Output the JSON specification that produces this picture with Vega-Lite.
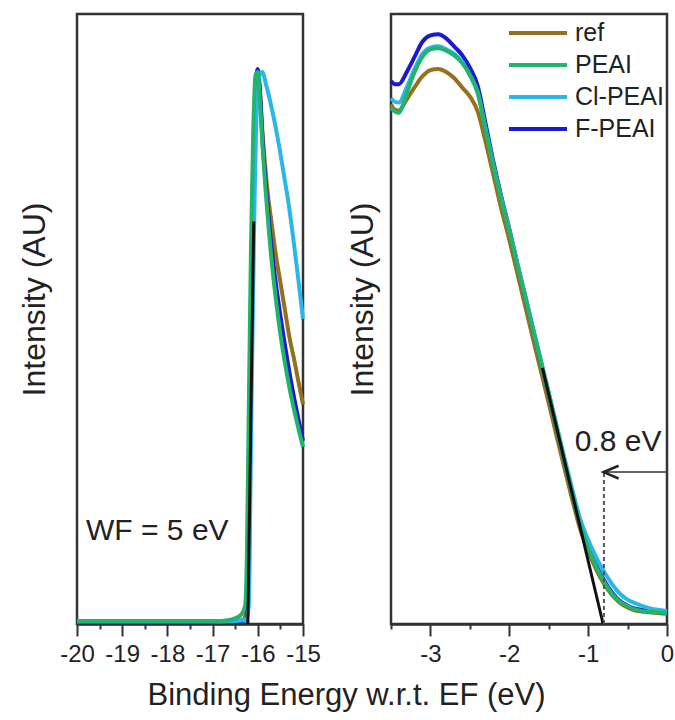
{
  "$schema": "https://vega.github.io/schema/vega-lite/v6.json",
  "padding": {"left": 16, "top": 12, "right": 4, "bottom": 6},
  "config": {
    "font": "Liberation Sans",
    "view": {"stroke": "#333", "strokeWidth": 2.5},
    "axis": {"labelFont": "Liberation Sans", "titleFont": "Liberation Sans", "titleFontWeight": "normal", "labelColor": "#222", "titleColor": "#222", "grid": false}
  },
  "datasets": {
    "left": [
      {"s": "ref", "x": -20, "y": 0.004}, {"s": "ref", "x": -19, "y": 0.004}, {"s": "ref", "x": -18, "y": 0.004}, {"s": "ref", "x": -17, "y": 0.004}, {"s": "ref", "x": -16.5, "y": 0.005}, {"s": "ref", "x": -16.3, "y": 0.008}, {"s": "ref", "x": -16.25, "y": 0.03}, {"s": "ref", "x": -16.2, "y": 0.25}, {"s": "ref", "x": -16.15, "y": 0.55}, {"s": "ref", "x": -16.1, "y": 0.77}, {"s": "ref", "x": -16.05, "y": 0.88}, {"s": "ref", "x": -16.0, "y": 0.905}, {"s": "ref", "x": -15.95, "y": 0.87}, {"s": "ref", "x": -15.9, "y": 0.81}, {"s": "ref", "x": -15.8, "y": 0.72}, {"s": "ref", "x": -15.7, "y": 0.66}, {"s": "ref", "x": -15.6, "y": 0.605}, {"s": "ref", "x": -15.5, "y": 0.56}, {"s": "ref", "x": -15.4, "y": 0.515}, {"s": "ref", "x": -15.3, "y": 0.47}, {"s": "ref", "x": -15.2, "y": 0.435}, {"s": "ref", "x": -15.1, "y": 0.397}, {"s": "ref", "x": -15.0, "y": 0.36},
      {"s": "F-PEAI", "x": -20, "y": 0.003}, {"s": "F-PEAI", "x": -19, "y": 0.003}, {"s": "F-PEAI", "x": -18, "y": 0.003}, {"s": "F-PEAI", "x": -17, "y": 0.003}, {"s": "F-PEAI", "x": -16.5, "y": 0.004}, {"s": "F-PEAI", "x": -16.25, "y": 0.006}, {"s": "F-PEAI", "x": -16.22, "y": 0.03}, {"s": "F-PEAI", "x": -16.18, "y": 0.3}, {"s": "F-PEAI", "x": -16.12, "y": 0.65}, {"s": "F-PEAI", "x": -16.06, "y": 0.86}, {"s": "F-PEAI", "x": -16.0, "y": 0.91}, {"s": "F-PEAI", "x": -15.95, "y": 0.87}, {"s": "F-PEAI", "x": -15.9, "y": 0.8}, {"s": "F-PEAI", "x": -15.8, "y": 0.7}, {"s": "F-PEAI", "x": -15.7, "y": 0.62}, {"s": "F-PEAI", "x": -15.6, "y": 0.558}, {"s": "F-PEAI", "x": -15.5, "y": 0.505}, {"s": "F-PEAI", "x": -15.4, "y": 0.457}, {"s": "F-PEAI", "x": -15.3, "y": 0.412}, {"s": "F-PEAI", "x": -15.2, "y": 0.372}, {"s": "F-PEAI", "x": -15.1, "y": 0.335}, {"s": "F-PEAI", "x": -15.0, "y": 0.3},
      {"s": "Cl-PEAI", "x": -20, "y": 0.004}, {"s": "Cl-PEAI", "x": -19, "y": 0.004}, {"s": "Cl-PEAI", "x": -18, "y": 0.004}, {"s": "Cl-PEAI", "x": -17, "y": 0.004}, {"s": "Cl-PEAI", "x": -16.5, "y": 0.005}, {"s": "Cl-PEAI", "x": -16.25, "y": 0.007}, {"s": "Cl-PEAI", "x": -16.2, "y": 0.03}, {"s": "Cl-PEAI", "x": -16.15, "y": 0.3}, {"s": "Cl-PEAI", "x": -16.08, "y": 0.66}, {"s": "Cl-PEAI", "x": -16.02, "y": 0.85}, {"s": "Cl-PEAI", "x": -15.96, "y": 0.9}, {"s": "Cl-PEAI", "x": -15.9, "y": 0.905}, {"s": "Cl-PEAI", "x": -15.82, "y": 0.885}, {"s": "Cl-PEAI", "x": -15.72, "y": 0.855}, {"s": "Cl-PEAI", "x": -15.62, "y": 0.82}, {"s": "Cl-PEAI", "x": -15.52, "y": 0.78}, {"s": "Cl-PEAI", "x": -15.42, "y": 0.735}, {"s": "Cl-PEAI", "x": -15.32, "y": 0.69}, {"s": "Cl-PEAI", "x": -15.22, "y": 0.635}, {"s": "Cl-PEAI", "x": -15.12, "y": 0.575}, {"s": "Cl-PEAI", "x": -15.0, "y": 0.5},
      {"s": "PEAI", "x": -20, "y": 0.005}, {"s": "PEAI", "x": -19, "y": 0.005}, {"s": "PEAI", "x": -18, "y": 0.005}, {"s": "PEAI", "x": -17, "y": 0.005}, {"s": "PEAI", "x": -16.8, "y": 0.005}, {"s": "PEAI", "x": -16.6, "y": 0.007}, {"s": "PEAI", "x": -16.45, "y": 0.011}, {"s": "PEAI", "x": -16.35, "y": 0.017}, {"s": "PEAI", "x": -16.28, "y": 0.03}, {"s": "PEAI", "x": -16.24, "y": 0.12}, {"s": "PEAI", "x": -16.2, "y": 0.35}, {"s": "PEAI", "x": -16.15, "y": 0.62}, {"s": "PEAI", "x": -16.1, "y": 0.81}, {"s": "PEAI", "x": -16.05, "y": 0.9}, {"s": "PEAI", "x": -16.0, "y": 0.905}, {"s": "PEAI", "x": -15.95, "y": 0.855}, {"s": "PEAI", "x": -15.9, "y": 0.79}, {"s": "PEAI", "x": -15.8, "y": 0.685}, {"s": "PEAI", "x": -15.7, "y": 0.6}, {"s": "PEAI", "x": -15.6, "y": 0.532}, {"s": "PEAI", "x": -15.5, "y": 0.475}, {"s": "PEAI", "x": -15.4, "y": 0.428}, {"s": "PEAI", "x": -15.3, "y": 0.387}, {"s": "PEAI", "x": -15.2, "y": 0.352}, {"s": "PEAI", "x": -15.1, "y": 0.32}, {"s": "PEAI", "x": -15.0, "y": 0.29}
    ],
    "right": [
      {"s": "ref", "x": -3.5, "y": 0.852}, {"s": "ref", "x": -3.45, "y": 0.843}, {"s": "ref", "x": -3.4, "y": 0.842}, {"s": "ref", "x": -3.3, "y": 0.86}, {"s": "ref", "x": -3.2, "y": 0.88}, {"s": "ref", "x": -3.1, "y": 0.898}, {"s": "ref", "x": -3.0, "y": 0.908}, {"s": "ref", "x": -2.9, "y": 0.91}, {"s": "ref", "x": -2.8, "y": 0.905}, {"s": "ref", "x": -2.7, "y": 0.895}, {"s": "ref", "x": -2.6, "y": 0.88}, {"s": "ref", "x": -2.5, "y": 0.865}, {"s": "ref", "x": -2.4, "y": 0.84}, {"s": "ref", "x": -2.3, "y": 0.79}, {"s": "ref", "x": -2.2, "y": 0.735}, {"s": "ref", "x": -2.1, "y": 0.68}, {"s": "ref", "x": -2.0, "y": 0.63}, {"s": "ref", "x": -1.9, "y": 0.576}, {"s": "ref", "x": -1.8, "y": 0.522}, {"s": "ref", "x": -1.7, "y": 0.468}, {"s": "ref", "x": -1.6, "y": 0.415}, {"s": "ref", "x": -1.5, "y": 0.362}, {"s": "ref", "x": -1.4, "y": 0.308}, {"s": "ref", "x": -1.3, "y": 0.255}, {"s": "ref", "x": -1.2, "y": 0.203}, {"s": "ref", "x": -1.1, "y": 0.155}, {"s": "ref", "x": -1.0, "y": 0.12}, {"s": "ref", "x": -0.9, "y": 0.09}, {"s": "ref", "x": -0.8, "y": 0.066}, {"s": "ref", "x": -0.7, "y": 0.048}, {"s": "ref", "x": -0.6, "y": 0.035}, {"s": "ref", "x": -0.5, "y": 0.027}, {"s": "ref", "x": -0.4, "y": 0.022}, {"s": "ref", "x": -0.2, "y": 0.019}, {"s": "ref", "x": 0, "y": 0.017},
      {"s": "F-PEAI", "x": -3.5, "y": 0.89}, {"s": "F-PEAI", "x": -3.45, "y": 0.885}, {"s": "F-PEAI", "x": -3.4, "y": 0.885}, {"s": "F-PEAI", "x": -3.3, "y": 0.905}, {"s": "F-PEAI", "x": -3.2, "y": 0.93}, {"s": "F-PEAI", "x": -3.1, "y": 0.955}, {"s": "F-PEAI", "x": -3.0, "y": 0.965}, {"s": "F-PEAI", "x": -2.9, "y": 0.967}, {"s": "F-PEAI", "x": -2.8, "y": 0.96}, {"s": "F-PEAI", "x": -2.7, "y": 0.947}, {"s": "F-PEAI", "x": -2.6, "y": 0.933}, {"s": "F-PEAI", "x": -2.5, "y": 0.912}, {"s": "F-PEAI", "x": -2.4, "y": 0.882}, {"s": "F-PEAI", "x": -2.3, "y": 0.82}, {"s": "F-PEAI", "x": -2.2, "y": 0.757}, {"s": "F-PEAI", "x": -2.1, "y": 0.7}, {"s": "F-PEAI", "x": -2.0, "y": 0.648}, {"s": "F-PEAI", "x": -1.9, "y": 0.592}, {"s": "F-PEAI", "x": -1.8, "y": 0.538}, {"s": "F-PEAI", "x": -1.7, "y": 0.484}, {"s": "F-PEAI", "x": -1.6, "y": 0.43}, {"s": "F-PEAI", "x": -1.5, "y": 0.377}, {"s": "F-PEAI", "x": -1.4, "y": 0.322}, {"s": "F-PEAI", "x": -1.3, "y": 0.268}, {"s": "F-PEAI", "x": -1.2, "y": 0.214}, {"s": "F-PEAI", "x": -1.1, "y": 0.164}, {"s": "F-PEAI", "x": -1.0, "y": 0.127}, {"s": "F-PEAI", "x": -0.9, "y": 0.097}, {"s": "F-PEAI", "x": -0.8, "y": 0.072}, {"s": "F-PEAI", "x": -0.7, "y": 0.052}, {"s": "F-PEAI", "x": -0.6, "y": 0.038}, {"s": "F-PEAI", "x": -0.5, "y": 0.03}, {"s": "F-PEAI", "x": -0.4, "y": 0.025}, {"s": "F-PEAI", "x": -0.2, "y": 0.021}, {"s": "F-PEAI", "x": 0, "y": 0.019},
      {"s": "Cl-PEAI", "x": -3.5, "y": 0.862}, {"s": "Cl-PEAI", "x": -3.45, "y": 0.856}, {"s": "Cl-PEAI", "x": -3.4, "y": 0.855}, {"s": "Cl-PEAI", "x": -3.3, "y": 0.88}, {"s": "Cl-PEAI", "x": -3.2, "y": 0.91}, {"s": "Cl-PEAI", "x": -3.1, "y": 0.935}, {"s": "Cl-PEAI", "x": -3.0, "y": 0.945}, {"s": "Cl-PEAI", "x": -2.9, "y": 0.947}, {"s": "Cl-PEAI", "x": -2.8, "y": 0.942}, {"s": "Cl-PEAI", "x": -2.7, "y": 0.935}, {"s": "Cl-PEAI", "x": -2.6, "y": 0.922}, {"s": "Cl-PEAI", "x": -2.5, "y": 0.9}, {"s": "Cl-PEAI", "x": -2.4, "y": 0.872}, {"s": "Cl-PEAI", "x": -2.3, "y": 0.812}, {"s": "Cl-PEAI", "x": -2.2, "y": 0.752}, {"s": "Cl-PEAI", "x": -2.1, "y": 0.697}, {"s": "Cl-PEAI", "x": -2.0, "y": 0.647}, {"s": "Cl-PEAI", "x": -1.9, "y": 0.592}, {"s": "Cl-PEAI", "x": -1.8, "y": 0.54}, {"s": "Cl-PEAI", "x": -1.7, "y": 0.486}, {"s": "Cl-PEAI", "x": -1.6, "y": 0.433}, {"s": "Cl-PEAI", "x": -1.5, "y": 0.38}, {"s": "Cl-PEAI", "x": -1.4, "y": 0.326}, {"s": "Cl-PEAI", "x": -1.3, "y": 0.272}, {"s": "Cl-PEAI", "x": -1.2, "y": 0.22}, {"s": "Cl-PEAI", "x": -1.1, "y": 0.172}, {"s": "Cl-PEAI", "x": -1.0, "y": 0.138}, {"s": "Cl-PEAI", "x": -0.9, "y": 0.11}, {"s": "Cl-PEAI", "x": -0.8, "y": 0.086}, {"s": "Cl-PEAI", "x": -0.7, "y": 0.066}, {"s": "Cl-PEAI", "x": -0.6, "y": 0.05}, {"s": "Cl-PEAI", "x": -0.5, "y": 0.04}, {"s": "Cl-PEAI", "x": -0.4, "y": 0.034}, {"s": "Cl-PEAI", "x": -0.3, "y": 0.029}, {"s": "Cl-PEAI", "x": -0.2, "y": 0.025}, {"s": "Cl-PEAI", "x": -0.1, "y": 0.023}, {"s": "Cl-PEAI", "x": 0, "y": 0.021},
      {"s": "PEAI", "x": -3.5, "y": 0.846}, {"s": "PEAI", "x": -3.45, "y": 0.84}, {"s": "PEAI", "x": -3.4, "y": 0.838}, {"s": "PEAI", "x": -3.35, "y": 0.85}, {"s": "PEAI", "x": -3.3, "y": 0.87}, {"s": "PEAI", "x": -3.2, "y": 0.905}, {"s": "PEAI", "x": -3.1, "y": 0.93}, {"s": "PEAI", "x": -3.0, "y": 0.942}, {"s": "PEAI", "x": -2.9, "y": 0.944}, {"s": "PEAI", "x": -2.8, "y": 0.94}, {"s": "PEAI", "x": -2.7, "y": 0.932}, {"s": "PEAI", "x": -2.6, "y": 0.92}, {"s": "PEAI", "x": -2.5, "y": 0.9}, {"s": "PEAI", "x": -2.4, "y": 0.87}, {"s": "PEAI", "x": -2.3, "y": 0.81}, {"s": "PEAI", "x": -2.2, "y": 0.75}, {"s": "PEAI", "x": -2.1, "y": 0.695}, {"s": "PEAI", "x": -2.0, "y": 0.645}, {"s": "PEAI", "x": -1.9, "y": 0.59}, {"s": "PEAI", "x": -1.8, "y": 0.537}, {"s": "PEAI", "x": -1.7, "y": 0.483}, {"s": "PEAI", "x": -1.6, "y": 0.43}, {"s": "PEAI", "x": -1.5, "y": 0.377}, {"s": "PEAI", "x": -1.4, "y": 0.322}, {"s": "PEAI", "x": -1.3, "y": 0.267}, {"s": "PEAI", "x": -1.2, "y": 0.213}, {"s": "PEAI", "x": -1.1, "y": 0.162}, {"s": "PEAI", "x": -1.0, "y": 0.125}, {"s": "PEAI", "x": -0.9, "y": 0.095}, {"s": "PEAI", "x": -0.8, "y": 0.07}, {"s": "PEAI", "x": -0.7, "y": 0.05}, {"s": "PEAI", "x": -0.6, "y": 0.037}, {"s": "PEAI", "x": -0.5, "y": 0.029}, {"s": "PEAI", "x": -0.4, "y": 0.024}, {"s": "PEAI", "x": -0.3, "y": 0.021}, {"s": "PEAI", "x": -0.2, "y": 0.02}, {"s": "PEAI", "x": -0.1, "y": 0.019}, {"s": "PEAI", "x": 0, "y": 0.018}
    ]
  },
  "title": {"text": "Binding Energy w.r.t. EF (eV)", "orient": "bottom", "anchor": "middle", "fontSize": 31, "font": "Liberation Sans", "fontWeight": "normal", "color": "#222", "offset": 14, "dx": 0},
  "spacing": 22,
  "resolve": {"scale": {"color": "independent"}, "legend": {"color": "independent"}},
  "hconcat": [
    {
      "width": 226,
      "height": 610,
      "layer": [
        {
          "data": {"name": "left"},
          "mark": {"type": "line", "strokeWidth": 4, "interpolate": "monotone"},
          "encoding": {
            "x": {"field": "x", "type": "quantitative", "scale": {"domain": [-20, -15], "nice": false},
              "axis": {"title": null, "tickCount": 30, "values": [-20, -19.5, -19, -18.5, -18, -17.5, -17, -16.5, -16, -15.5, -15], "labelExpr": "datum.value % 1 === 0 ? replace(format(datum.value, '.0f'), '\u2212', '-') : ''", "tickSize": {"condition": {"test": "datum.value % 1 !== 0", "value": 5}, "value": 12}, "tickWidth": 2, "tickColor": "#333", "domainColor": "#333", "domainWidth": 2.5, "labelFontSize": 24, "labelPadding": 6, "labelOverlap": false, "labelFlush": false, "labelBound": false}},
            "y": {"field": "y", "type": "quantitative", "scale": {"domain": [0, 1], "nice": false},
              "axis": {"title": "Intensity (AU)", "titleFontSize": 32, "titlePadding": 26, "titleY": 285, "labels": false, "ticks": false, "domain": false}},
            "color": {"field": "s", "type": "nominal", "scale": {"domain": ["ref", "PEAI", "Cl-PEAI", "F-PEAI"], "range": ["#94701f", "#20b46c", "#2bb6ea", "#1a1ad2"]}, "legend": null}
          }
        },
        {
          "data": {"values": [{"x": -16.22, "y": 0}, {"x": -16.09, "y": 0.66}]},
          "mark": {"type": "line", "color": "#111", "strokeWidth": 3},
          "encoding": {"x": {"field": "x", "type": "quantitative"}, "y": {"field": "y", "type": "quantitative"}}
        },
        {
          "data": {"values": [{"x": -19.8, "y": 0.152, "t": "WF = 5 eV"}]},
          "mark": {"type": "text", "fontSize": 30, "align": "left", "baseline": "middle", "color": "#222", "font": "Liberation Sans"},
          "encoding": {"x": {"field": "x", "type": "quantitative"}, "y": {"field": "y", "type": "quantitative"}, "text": {"field": "t"}}
        }
      ]
    },
    {
      "width": 276,
      "height": 610,
      "layer": [
        {
          "data": {"name": "right"},
          "mark": {"type": "line", "strokeWidth": 4, "interpolate": "monotone"},
          "encoding": {
            "x": {"field": "x", "type": "quantitative", "scale": {"domain": [-3.5, 0], "nice": false},
              "axis": {"title": null, "tickCount": 30, "values": [-3.5, -3, -2.5, -2, -1.5, -1, -0.5, 0], "labelExpr": "datum.value % 1 === 0 ? replace(format(datum.value, '.0f'), '\u2212', '-') : ''", "tickSize": {"condition": {"test": "datum.value % 1 !== 0", "value": 5}, "value": 12}, "tickWidth": 2, "tickColor": "#333", "domainColor": "#333", "domainWidth": 2.5, "labelFontSize": 24, "labelPadding": 6, "labelOverlap": false, "labelFlush": false, "labelBound": false}},
            "y": {"field": "y", "type": "quantitative", "scale": {"domain": [0, 1], "nice": false},
              "axis": {"title": "Intensity (AU)", "titleFontSize": 32, "titlePadding": 12, "titleY": 285, "labels": false, "ticks": false, "domain": false}},
            "color": {"field": "s", "type": "nominal", "scale": {"domain": ["ref", "PEAI", "Cl-PEAI", "F-PEAI"], "range": ["#94701f", "#20b46c", "#2bb6ea", "#1a1ad2"]},
              "legend": {"orient": "none", "legendX": 116, "legendY": 4, "title": null, "symbolType": "stroke", "symbolSize": 3364, "symbolStrokeWidth": 4, "clipHeight": 30, "labelFontSize": 25, "labelFont": "Liberation Sans", "labelColor": "#222", "padding": 0, "rowPadding": 2, "labelOffset": 6}}
          }
        },
        {
          "data": {"values": [{"x": -1.58, "y": 0.42}, {"x": -0.81, "y": 0}]},
          "mark": {"type": "line", "color": "#111", "strokeWidth": 3},
          "encoding": {"x": {"field": "x", "type": "quantitative"}, "y": {"field": "y", "type": "quantitative"}}
        },
        {
          "data": {"values": [{"x": -0.8, "y": 0, "y2": 0.249}]},
          "mark": {"type": "rule", "color": "#555", "strokeWidth": 2, "strokeDash": [4, 3]},
          "encoding": {"x": {"field": "x", "type": "quantitative"}, "y": {"field": "y", "type": "quantitative"}, "y2": {"field": "y2"}}
        },
        {
          "data": {"values": [{"x": -0.8, "x2": 0, "y": 0.249}]},
          "mark": {"type": "rule", "color": "#333", "strokeWidth": 1.5},
          "encoding": {"x": {"field": "x", "type": "quantitative"}, "x2": {"field": "x2"}, "y": {"field": "y", "type": "quantitative"}}
        },
        {
          "data": {"values": [{"x": -0.709, "y": 0.249}]},
          "mark": {"type": "point", "shape": "M1,-0.85L-1,0L1,0.85", "size": 225, "filled": false, "stroke": "#222", "strokeWidth": 2.5, "opacity": 1},
          "encoding": {"x": {"field": "x", "type": "quantitative"}, "y": {"field": "y", "type": "quantitative"}}
        },
        {
          "data": {"values": [{"x": -0.07, "y": 0.298, "t": "0.8 eV"}]},
          "mark": {"type": "text", "fontSize": 30, "align": "right", "baseline": "middle", "color": "#222", "font": "Liberation Sans"},
          "encoding": {"x": {"field": "x", "type": "quantitative"}, "y": {"field": "y", "type": "quantitative"}, "text": {"field": "t"}}
        }
      ]
    }
  ]
}
